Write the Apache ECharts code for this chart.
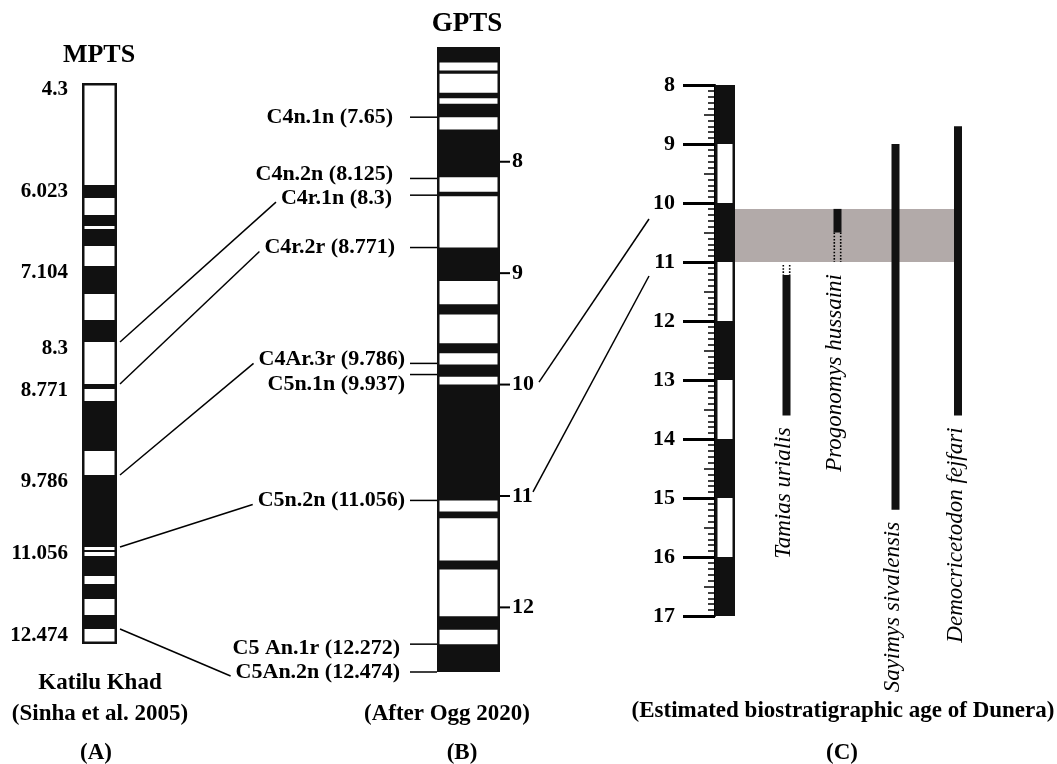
<!DOCTYPE html>
<html><head><meta charset="utf-8">
<script src="https://cdn.jsdelivr.net/npm/echarts@6/dist/echarts.min.js"></script>
<style>html,body{margin:0;padding:0;background:#fff}#c{width:1057px;height:764px}</style>
</head><body><div id="c"></div>
<script>
// ================= DATA =================
// (A) MPTS, Katilu Khad section: stratigraphic level (0 = top of column), normal-polarity (black) intervals
const mptsColumn = [0, 561];
const mptsNormal = [[102,115],[132,143],[146,163],[183,211],[237,259],[301,306],[318,368],[392,464],[467,469],[473,493],[501,516],[532,546]];
const mptsTieAges = ['4.3','6.023','7.104','8.3','8.771','9.786','11.056','12.474'];
const mptsTieLevels = [0,102,183,259,301,392,464,546];

// (B) GPTS (Ma)
const gptsColumn = [6.97, 12.58];
const gptsNormal = [[6.97,7.11],[7.18,7.21],[7.38,7.43],[7.48,7.60],[7.71,8.14],[8.27,8.31],[8.77,9.07],[9.28,9.37],[9.63,9.72],[9.82,9.93],[10.00,11.04],[11.14,11.20],[11.58,11.66],[12.08,12.20],[12.33,12.58]];
const gptsTickAges = [8,9,10,11,12];
const gptsChronNames = ['C4n.1n (7.65)','C4n.2n (8.125)','C4r.1n (8.3)','C4r.2r (8.771)','C4Ar.3r (9.786)','C5n.1n (9.937)','C5n.2n (11.056)','C5 An.1r (12.272)','C5An.2n (12.474)'];
const gptsChronAt = [7.60, 8.15, 8.30, 8.77, 9.81, 9.91, 11.04, 12.33, 12.58];

// MPTS tie -> GPTS chron correlations
const correlationMptsIdx = [3,4,5,6,7];
const correlationGptsIdx = [2,3,4,6,8];

// (C) Dunera
const duneraColumn = [8, 17];
const duneraNormal = [[8,9],[10,11],[12,13],[14,15],[16,17]];
const duneraEstimate = [10.1, 11.0];
const taxa = ['Tamias urialis','Progonomys hussaini','Sayimys sivalensis','Democricetodon fejfari'];
const taxonFirst = [11.22, 10.1, 9.0, 8.7];
const taxonLast = [13.6, 10.5, 15.2, 13.6];
const taxonDottedFrom = [11.05, 10.5, null, null];
const taxonDottedTo = [11.22, 11.0, null, null];
const gptsToDuneraAges = [10, 11];

// ================= LAYOUT =================
const LAYOUT = {
  gptsTextDx: [-10,-10,-11,-8,2,2,2,-3,-3],
  gptsTextDy: [0,-4,3,0,-4,10,0,4,0],
  taxonX: [71.5, 122.5, 180.5, 243],
  estimateX: [20, 239],
  colX: [0, 20]
};
const SERIF = "'Liberation Serif','Times New Roman',serif";
const INK = '#111';

const chart = echarts.init(document.getElementById('c'));

function rectBetween(api, x0, x1, y0, y1) {
  const a = api.coord([x0, y0]), b = api.coord([x1, y1]);
  return {x: Math.min(a[0],b[0]), y: Math.min(a[1],b[1]), width: Math.abs(b[0]-a[0]), height: Math.abs(b[1]-a[1])};
}
function frameSeries(ax, yax, xr, range) {
  return {type:'custom', xAxisIndex:ax, yAxisIndex:yax, data:[range], z:1, silent:true,
    renderItem(p, api){
      const r = rectBetween(api, xr[0], xr[1], api.value(0), api.value(1));
      return {type:'group', children:[
        {type:'rect', shape:r, style:{fill:INK}},
        {type:'rect', shape:{x:r.x+2.5, y:r.y+2.5, width:r.width-5, height:r.height-5}, style:{fill:'#fff'}}
      ]};
    }};
}
function bandSeries(ax, yax, xr, bands) {
  return {type:'custom', xAxisIndex:ax, yAxisIndex:yax, data:bands, z:2, silent:true,
    renderItem(p, api){
      return {type:'rect', shape:rectBetween(api, xr[0], xr[1], api.value(0), api.value(1)), style:{fill:INK}};
    }};
}
const labelFont = {fontFamily:SERIF, fontWeight:'bold', fontSize:22, color:'#000'};

const option = {
  animation:false,
  backgroundColor:'#fff',
  grid:[
    {left:82, top:83, width:35, height:561},
    {left:437, top:47, width:63, height:625},
    {left:715, top:85, width:250, height:531}
  ],
  xAxis:[
    {gridIndex:0, type:'value', min:0, max:1, show:false},
    {gridIndex:1, type:'value', min:0, max:1, show:false},
    {gridIndex:2, type:'value', min:0, max:250, show:false}
  ],
  yAxis:[
    {gridIndex:0, type:'value', min:mptsColumn[0], max:mptsColumn[1], inverse:true, show:false},
    {gridIndex:1, type:'value', min:gptsColumn[0], max:gptsColumn[1], inverse:true, position:'right',
      axisLine:{show:false}, splitLine:{show:false},
      axisTick:{show:false},
      axisLabel:Object.assign({show:true, margin:12, customValues:gptsTickAges}, labelFont)},
    {gridIndex:2, type:'value', min:duneraColumn[0], max:duneraColumn[1], interval:1, inverse:true, position:'left',
      axisLine:{show:true, lineStyle:{color:'#000', width:2}}, splitLine:{show:false},
      axisTick:{show:true, length:32, lineStyle:{color:'#000', width:3}},
      minorTick:{show:true, splitNumber:10, length:7, lineStyle:{color:'#000', width:1.5}},
      minorSplitLine:{show:false},
      axisLabel:Object.assign({show:true, margin:40}, labelFont)},
    {gridIndex:2, type:'value', min:duneraColumn[0], max:duneraColumn[1], interval:0.5, inverse:true, position:'left',
      axisLine:{show:false}, splitLine:{show:false}, axisLabel:{show:false},
      axisTick:{show:true, length:11, lineStyle:{color:'#000', width:1.5}}}
  ],
  series:[
    // A
    frameSeries(0, 0, [0,1], mptsColumn),
    bandSeries(0, 0, [0,1], mptsNormal),
    {type:'custom', xAxisIndex:0, yAxisIndex:0, data:mptsTieLevels.map(l=>[l]), z:3, silent:true,
      renderItem(p, api){
        const pt = api.coord([0, api.value(0)]);
        return {type:'text', x:pt[0]-14, y:pt[1]+7,
          style:{text:mptsTieAges[p.dataIndex], font:`bold 21px ${SERIF}`, fill:'#000', align:'right', verticalAlign:'middle'}};
      }},
    // B
    frameSeries(1, 1, [0,1], gptsColumn),
    bandSeries(1, 1, [0,1], gptsNormal),
    {type:'custom', xAxisIndex:1, yAxisIndex:1, data:gptsTickAges.map(a=>[a]), z:3, silent:true,
      renderItem(p, api){
        const pt = api.coord([1, api.value(0)]);
        return {type:'line', shape:{x1:pt[0], y1:pt[1], x2:pt[0]+10, y2:pt[1]}, style:{stroke:'#000', lineWidth:2}};
      }},
    {type:'custom', xAxisIndex:1, yAxisIndex:1, data:gptsChronAt.map(a=>[a]), z:3, silent:true,
      renderItem(p, api){
        const i = p.dataIndex;
        const pt = api.coord([0, api.value(0)]);
        return {type:'group', children:[
          {type:'line', shape:{x1:pt[0]-27, y1:pt[1], x2:pt[0], y2:pt[1]}, style:{stroke:'#000', lineWidth:1.5}},
          {type:'text', x:pt[0]-34+LAYOUT.gptsTextDx[i], y:pt[1]+LAYOUT.gptsTextDy[i],
            style:{text:gptsChronNames[i], font:`bold 22px ${SERIF}`, fill:'#000', align:'right', verticalAlign:'middle'}}
        ]};
      }},
    // C
    {type:'custom', xAxisIndex:2, yAxisIndex:2, data:[duneraEstimate], z:1, silent:true,
      renderItem(p, api){
        return {type:'rect', shape:rectBetween(api, LAYOUT.estimateX[0], LAYOUT.estimateX[1], api.value(0), api.value(1)), style:{fill:'#b2aaa9'}};
      }},
    frameSeries(2, 2, LAYOUT.colX, duneraColumn),
    bandSeries(2, 2, LAYOUT.colX, duneraNormal),
    {type:'custom', xAxisIndex:2, yAxisIndex:2, data:taxonFirst.map((f,i)=>[f, taxonLast[i]]), z:4, silent:true,
      renderItem(p, api){
        const i = p.dataIndex, xc = LAYOUT.taxonX[i];
        const children = [{type:'rect', shape:rectBetween(api, xc-4, xc+4, api.value(0), api.value(1)), style:{fill:INK}}];
        let low = api.value(1);
        if (taxonDottedFrom[i] != null) {
          const a = api.coord([xc-3.2, taxonDottedFrom[i]]), b = api.coord([xc+3.2, taxonDottedTo[i]]);
          [a[0], b[0]].forEach(x => children.push({type:'line', shape:{x1:x, y1:a[1], x2:x, y2:b[1]},
            style:{stroke:'#000', lineWidth:1.6, lineDash:[1.6,1.6]}}));
          low = Math.max(low, taxonDottedTo[i]);
        }
        const lp = api.coord([xc-2.5, low]);
        children.push({type:'text', x:lp[0], y:lp[1]+12, rotation:Math.PI/2,
          style:{text:taxa[i], font:`italic 23px ${SERIF}`, fill:'#000', align:'right', verticalAlign:'middle'}});
        return {type:'group', children};
      }}
  ]
};
chart.setOption(option);

// ---- connectors computed from the axes' scales ----
const ctx = document.createElement('canvas').getContext('2d');
ctx.font = `bold 22px ${SERIF}`;
const px = (ax, yax, pt) => chart.convertToPixel({xAxisIndex:ax, yAxisIndex:yax}, pt);
const lineStyle = {stroke:'#000', lineWidth:1.5};
const elements = [];
correlationMptsIdx.forEach((mi, k) => {
  const gi = correlationGptsIdx[k];
  const a = px(0, 0, [1, mptsTieLevels[mi]]);
  const b = px(1, 1, [0, gptsChronAt[gi]]);
  const textRight = b[0]-34+LAYOUT.gptsTextDx[gi];
  const w = ctx.measureText(gptsChronNames[gi]).width;
  elements.push({type:'line', shape:{x1:a[0]+3, y1:a[1], x2:textRight-w-5, y2:b[1]+LAYOUT.gptsTextDy[gi]+4}, style:lineStyle});
});
const bOff = [[39,-2.5],[33,-4]], cOff = [[-66,16],[-66,14]];
gptsToDuneraAges.forEach((age, k) => {
  const s = px(1, 1, [1, age]);
  const e = px(2, 2, [0, age]);
  elements.push({type:'line', shape:{x1:s[0]+bOff[k][0], y1:s[1]+bOff[k][1], x2:e[0]+cOff[k][0], y2:e[1]+cOff[k][1]}, style:lineStyle});
});
const txt = (text, x, y, size) => ({type:'text', x, y, style:{text, font:`bold ${size}px ${SERIF}`, fill:'#000', align:'center', verticalAlign:'middle'}});
elements.push(
  txt('MPTS', 99, 55, 26),
  txt('GPTS', 467, 24, 27),
  txt('Katilu Khad', 100, 683, 23),
  txt('(Sinha et al. 2005)', 100, 714, 23),
  txt('(A)', 96, 753, 23),
  txt('(After Ogg 2020)', 447, 714, 23),
  txt('(B)', 462, 753, 23),
  txt('(Estimated biostratigraphic age of Dunera)', 843, 711, 23),
  txt('(C)', 842, 753, 23)
);
chart.setOption({graphic:{elements}});
</script>
</body></html>
